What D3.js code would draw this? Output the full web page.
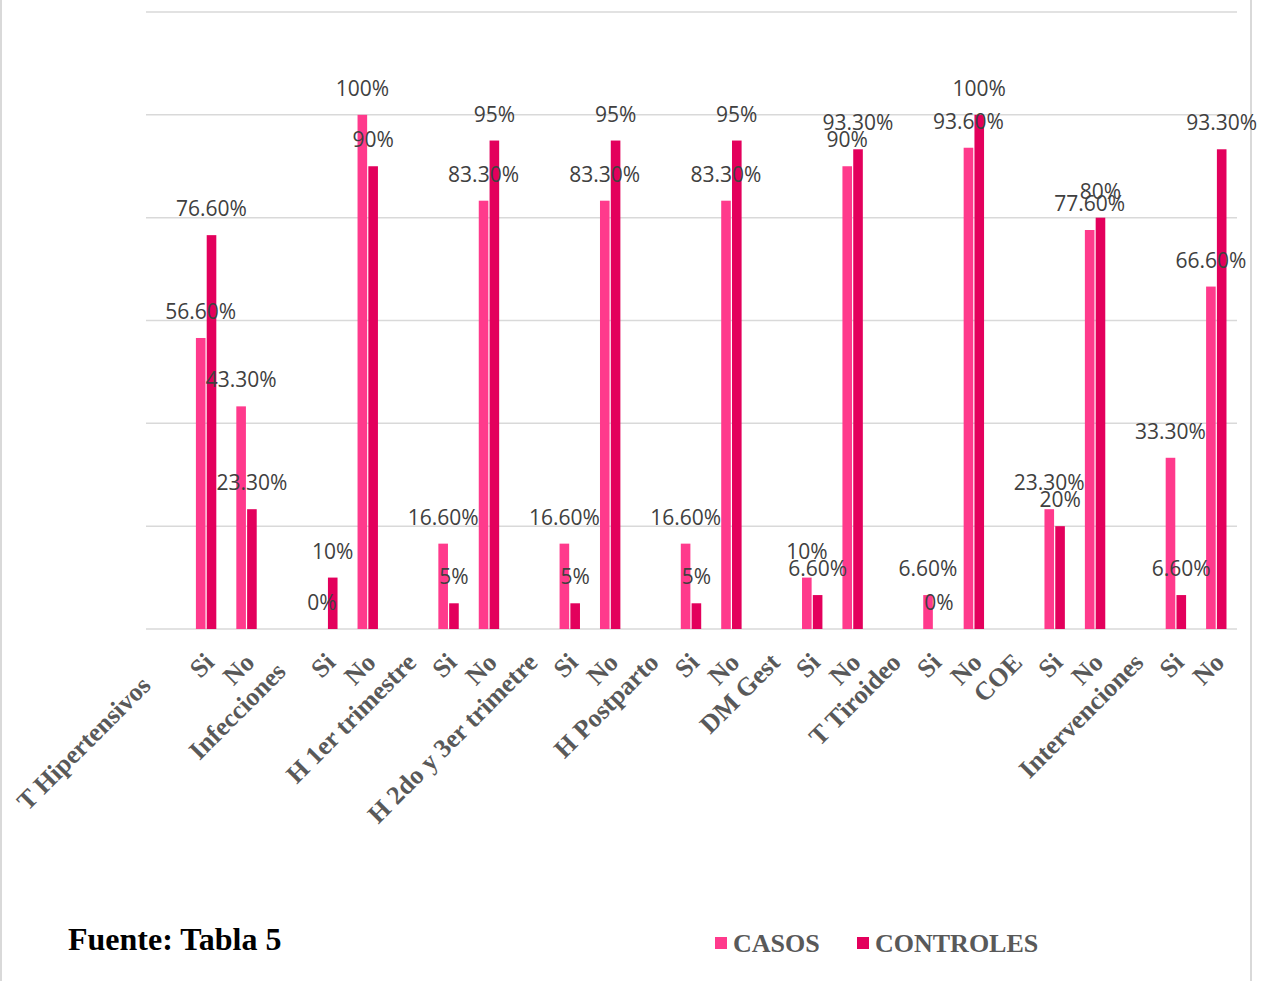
<!DOCTYPE html>
<html>
<head>
<meta charset="utf-8">
<script src="https://cdn.jsdelivr.net/npm/d3@7"></script>
<style>
  html, body { margin: 0; padding: 0; background: #fff; }
  svg { display: block; }
  .cat { white-space: pre; }
</style>
</head>
<body>
<svg id="chart" width="1262" height="981"></svg>
<script>
// Factor groups and their answer levels
const groups = ["T Hipertensivos     ", "Infecciones  ", "H 1er trimestre", "H 2do y 3er trimetre",
                "H Postparto", "DM Gest", "T Tiroideo", "COE", "Intervenciones"];
const levels = ["Si", "No"];

// Percentages per group, in order Si, No
const casos     = [56.6, 43.3, 0, 100, 16.6, 83.3, 16.6, 83.3, 16.6, 83.3, 10, 90, 6.6, 93.6, 23.3, 77.6, 33.3, 66.6];
const controles = [76.6, 23.3, 10, 90, 5, 95, 5, 95, 5, 95, 6.6, 93.3, 0, 100, 20, 80, 6.6, 93.3];

const seriesNames = ["CASOS", "CONTROLES"];
const seriesColors = ["#FF3A8C", "#E3005C"];
const yTicks = [0, 20, 40, 60, 80, 100, 120];

// Flat category axis: group name slot followed by its Si / No slots
const slots = [];
groups.forEach((g, gi) => {
  slots.push({ label: g, group: true });
  levels.forEach((lv, li) => {
    const k = gi * 2 + li;
    slots.push({ label: lv, group: false, values: [casos[k], controles[k]] });
  });
});

const svg = d3.select("#chart");

// outer frame
svg.append("rect")
  .attr("x", 1).attr("y", -5).attr("width", 1250).attr("height", 995)
  .attr("fill", "none").attr("stroke", "#d9d9d9").attr("stroke-width", 2);

const plot = { left: 146, right: 1237, top: 12, bottom: 629 };

const x = d3.scaleBand()
  .domain(d3.range(slots.length))
  .range([plot.left, plot.right])
  .paddingInner(0).paddingOuter(0);

const y = d3.scaleLinear().domain([0, 120]).range([plot.bottom, plot.top]);

const x1 = d3.scaleBand().domain(seriesNames).range([-11.3, 10.3]);

// gridlines
svg.append("g").selectAll("line").data(yTicks).join("line")
  .attr("x1", plot.left).attr("x2", plot.right)
  .attr("y1", d => y(d)).attr("y2", d => y(d))
  .attr("stroke", "#d9d9d9").attr("stroke-width", 1.5);

const fmt = v => (Number.isInteger(v) ? v : v.toFixed(2)) + "%";

const barData = [];
slots.forEach((s, i) => {
  if (s.group) return;
  s.values.forEach((v, si) => barData.push({ i, si, v }));
});

const cx = i => x(i) + x.bandwidth() / 2;

// bars
svg.append("g").selectAll("rect").data(barData).join("rect")
  .attr("x", d => cx(d.i) + x1(seriesNames[d.si]) + 0.6)
  .attr("width", x1.bandwidth() - 1.2)
  .attr("y", d => y(d.v))
  .attr("height", d => y(0) - y(d.v))
  .attr("fill", d => seriesColors[d.si]);

// value labels
svg.append("g").selectAll("text").data(barData).join("text")
  .attr("x", d => cx(d.i) + x1(seriesNames[d.si]) + x1.bandwidth() / 2)
  .attr("y", d => y(d.v) - 19)
  .attr("text-anchor", "middle")
  .attr("font-family", "'Open Sans', sans-serif")
  .attr("font-size", 21)
  .attr("fill", "#404040")
  .text(d => fmt(d.v));

// category labels, rotated
svg.append("g").selectAll("text").data(slots).join("text")
  .attr("class", "cat")
  .attr("transform", (d, i) => `translate(${cx(i) + 9},${664}) rotate(-45)`)
  .attr("text-anchor", "end")
  .attr("font-family", "'Liberation Serif', 'Times New Roman', serif")
  .attr("font-weight", "bold")
  .attr("font-size", 26)
  .attr("fill", "#595959")
  .text(d => d.label);

// source note
svg.append("text")
  .attr("x", 68).attr("y", 950)
  .attr("font-family", "'Liberation Serif', 'Times New Roman', serif")
  .attr("font-weight", "bold").attr("font-size", 32).attr("fill", "#000")
  .text("Fuente: Tabla 5");

// legend
const legendX = [715, 857];
const legend = svg.append("g").selectAll("g").data(seriesNames).join("g")
  .attr("transform", (d, i) => `translate(${legendX[i]},937)`);
legend.append("rect").attr("width", 12).attr("height", 12)
  .attr("fill", (d, i) => seriesColors[i]);
legend.append("text").attr("x", 18).attr("y", 15)
  .attr("font-family", "'Liberation Serif', 'Times New Roman', serif")
  .attr("font-weight", "bold").attr("font-size", 26).attr("fill", "#595959")
  .text(d => d);
</script>
</body>
</html>
